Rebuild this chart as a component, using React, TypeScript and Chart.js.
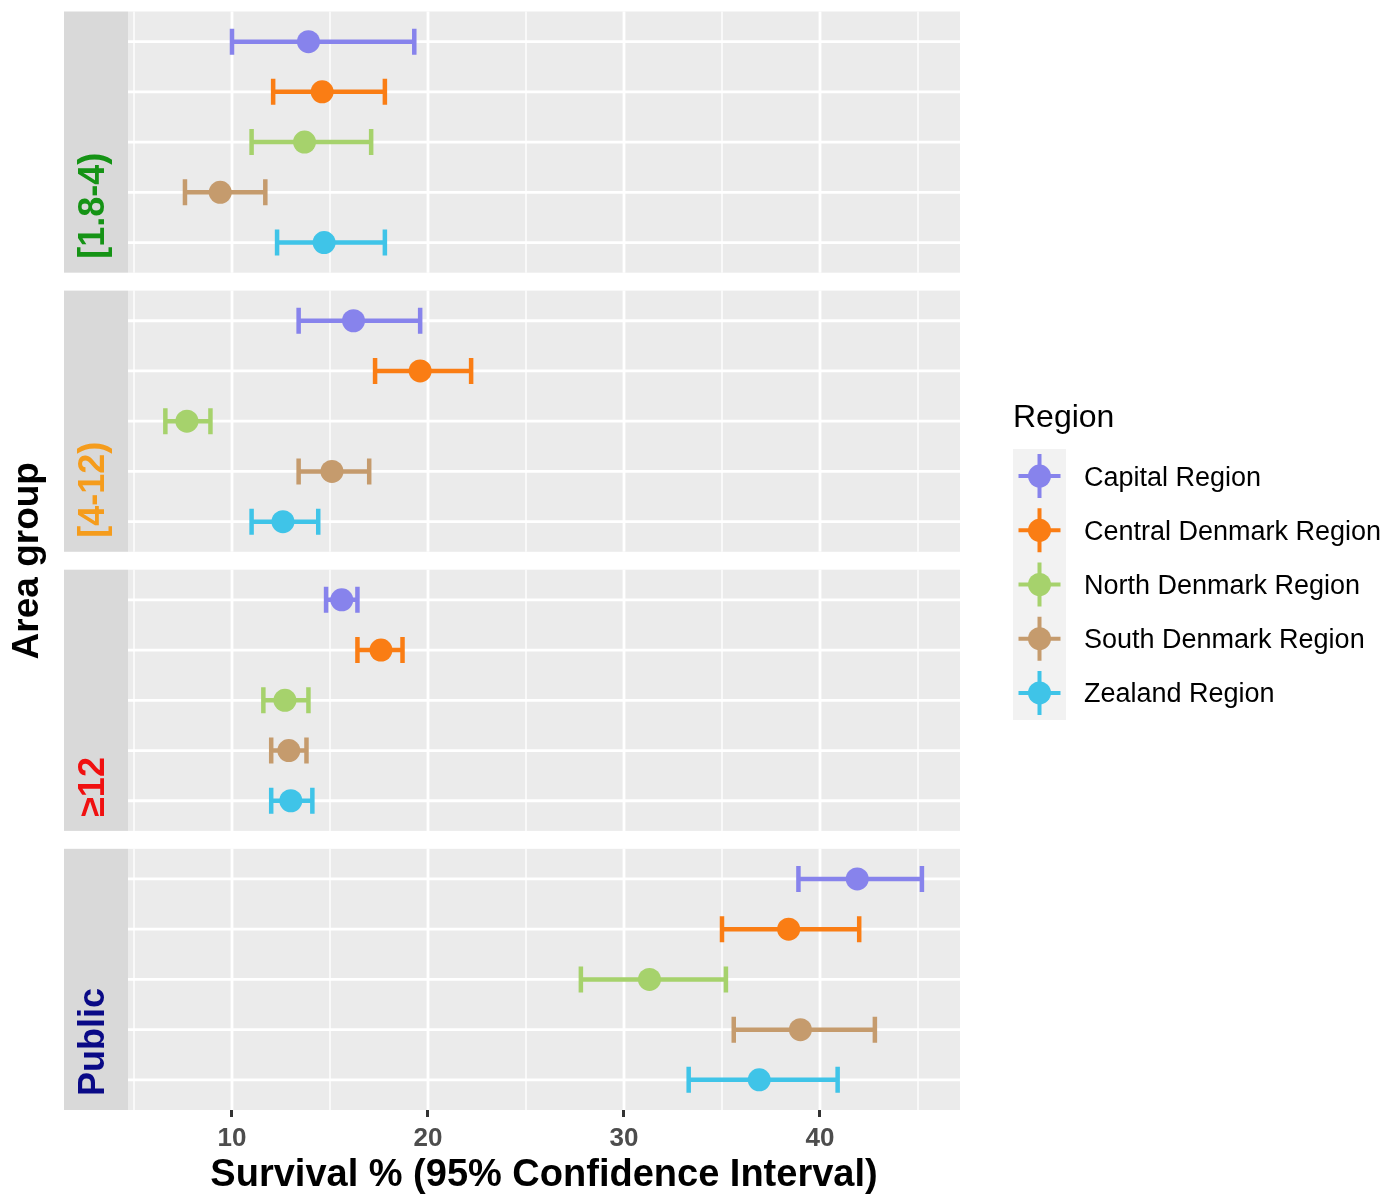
import React, { useEffect, useRef } from 'react';
import { Chart, registerables } from 'chart.js';

Chart.register(...registerables);

// ---------- data ----------
const regions = [
  'Capital Region',
  'Central Denmark Region',
  'North Denmark Region',
  'South Denmark Region',
  'Zealand Region',
];
const regionColors = ['#8783EC', '#FA7D14', '#A6D26C', '#C59B6D', '#3FC4E8'];

const areaGroups = ['[1.8-4)', '[4-12)', '≥12', 'Public'];
const areaGroupColors = ['#159315', '#F59C1C', '#F01010', '#0A0A86'];

const xMajorTicks = [10, 20, 30, 40];
const xMinorTicks = [5, 15, 25, 35, 45];

// values per area group: [1.8-4), [4-12), ≥12, Public
const capitalEst = [13.9, 16.2, 15.6, 41.9];
const capitalLow = [10.0, 13.4, 14.8, 38.9];
const capitalHigh = [19.3, 19.6, 16.4, 45.2];

const centralEst = [14.6, 19.6, 17.6, 38.4];
const centralLow = [12.1, 17.3, 16.4, 35.0];
const centralHigh = [17.8, 22.2, 18.7, 42.0];

const northEst = [13.7, 7.7, 12.7, 31.3];
const northLow = [11.0, 6.6, 11.6, 27.8];
const northHigh = [17.1, 8.9, 13.9, 35.2];

const southEst = [9.4, 15.1, 12.9, 39.0];
const southLow = [7.6, 13.4, 12.0, 35.6];
const southHigh = [11.7, 17.0, 13.8, 42.8];

const zealandEst = [14.7, 12.6, 13.0, 36.9];
const zealandLow = [12.3, 11.0, 12.0, 33.3];
const zealandHigh = [17.8, 14.4, 14.1, 40.9];

const estimates = [capitalEst, centralEst, northEst, southEst, zealandEst];
const lows = [capitalLow, centralLow, northLow, southLow, zealandLow];
const highs = [capitalHigh, centralHigh, northHigh, southHigh, zealandHigh];

// ---------- facet layout (in y-scale units) ----------
const PANEL_SPAN = 5.2; // 5 rows + 0.6 expansion each side
const PANEL_GAP = 0.357;
const Y_MAX = areaGroups.length * PANEL_SPAN + (areaGroups.length - 1) * PANEL_GAP;
const panelStart = (p: number) => p * (PANEL_SPAN + PANEL_GAP);
const rowPos = (p: number, r: number) => panelStart(p) + r + 0.6;

const STRIP_WIDTH = 64;
const FONT = '"Liberation Sans", Arial, Helvetica, sans-serif';

const facetPlugin = {
  id: 'facetPlugin',
  beforeDatasetsDraw(chart: any) {
    const { ctx, chartArea, scales } = chart;
    const x = scales.x;
    const y = scales.y;
    ctx.save();
    areaGroups.forEach((label, p) => {
      const top = y.getPixelForValue(panelStart(p));
      const bottom = y.getPixelForValue(panelStart(p) + PANEL_SPAN);
      ctx.fillStyle = '#EBEBEB';
      ctx.fillRect(chartArea.left, top, chartArea.right - chartArea.left, bottom - top);
      ctx.fillStyle = '#D9D9D9';
      ctx.fillRect(chartArea.left - STRIP_WIDTH, top, STRIP_WIDTH, bottom - top);

      ctx.strokeStyle = '#FFFFFF';
      ctx.lineWidth = 1.4;
      xMinorTicks.forEach((v) => {
        const px = x.getPixelForValue(v);
        ctx.beginPath();
        ctx.moveTo(px, top);
        ctx.lineTo(px, bottom);
        ctx.stroke();
      });
      ctx.lineWidth = 2.8;
      xMajorTicks.forEach((v) => {
        const px = x.getPixelForValue(v);
        ctx.beginPath();
        ctx.moveTo(px, top);
        ctx.lineTo(px, bottom);
        ctx.stroke();
      });
      for (let r = 0; r < regions.length; r++) {
        const py = y.getPixelForValue(rowPos(p, r));
        ctx.beginPath();
        ctx.moveTo(chartArea.left, py);
        ctx.lineTo(chartArea.right, py);
        ctx.stroke();
      }

      // strip label
      ctx.save();
      ctx.translate(chartArea.left - STRIP_WIDTH / 2 - 2, bottom - 14);
      ctx.rotate(-Math.PI / 2);
      ctx.font = `bold 36px ${FONT}`;
      ctx.fillStyle = areaGroupColors[p];
      ctx.textAlign = 'left';
      ctx.textBaseline = 'middle';
      ctx.fillText(label, 0, 0);
      ctx.restore();
    });

    // error bars
    chart.data.datasets.forEach((ds: any) => {
      ctx.strokeStyle = ds.backgroundColor;
      ctx.lineWidth = 4.5;
      ctx.lineCap = 'butt';
      ds.data.forEach((pt: any) => {
        const xl = x.getPixelForValue(pt.low);
        const xh = x.getPixelForValue(pt.high);
        const py = y.getPixelForValue(pt.y);
        const half = 13;
        ctx.beginPath();
        ctx.moveTo(xl, py);
        ctx.lineTo(xh, py);
        ctx.moveTo(xl, py - half);
        ctx.lineTo(xl, py + half);
        ctx.moveTo(xh, py - half);
        ctx.lineTo(xh, py + half);
        ctx.stroke();
      });
    });
    ctx.restore();
  },
  afterDraw(chart: any) {
    const { ctx, chartArea } = chart;
    ctx.save();
    // y-axis title
    ctx.save();
    ctx.translate(38, (chartArea.top + chartArea.bottom) / 2);
    ctx.rotate(-Math.PI / 2);
    ctx.font = `bold 37px ${FONT}`;
    ctx.fillStyle = '#000000';
    ctx.textAlign = 'center';
    ctx.textBaseline = 'alphabetic';
    ctx.fillText('Area group', 0, 0);
    ctx.restore();

    // legend
    const lx = chartArea.right + 53;
    ctx.font = `32px ${FONT}`;
    ctx.fillStyle = '#000000';
    ctx.textAlign = 'left';
    ctx.textBaseline = 'alphabetic';
    ctx.fillText('Region', lx, 427);

    const keyTop = 449;
    const keyH = 54.2;
    const keyW = 53;
    ctx.fillStyle = '#F2F2F2';
    ctx.fillRect(lx, keyTop, keyW, keyH * regions.length);
    regions.forEach((name, i) => {
      const cy = keyTop + keyH * (i + 0.5);
      const cx = lx + keyW / 2;
      ctx.strokeStyle = regionColors[i];
      ctx.lineWidth = 4;
      ctx.beginPath();
      ctx.moveTo(cx - 21, cy);
      ctx.lineTo(cx + 21, cy);
      ctx.moveTo(cx, cy - 22);
      ctx.lineTo(cx, cy + 22);
      ctx.stroke();
      ctx.fillStyle = regionColors[i];
      ctx.beginPath();
      ctx.arc(cx, cy, 11.5, 0, Math.PI * 2);
      ctx.fill();
      ctx.fillStyle = '#000000';
      ctx.font = `27px ${FONT}`;
      ctx.fillText(name, lx + 71, cy + 9.5);
    });
    ctx.restore();
  },
};

export default function App() {
  const canvasRef = useRef<HTMLCanvasElement | null>(null);

  useEffect(() => {
    if (!canvasRef.current) return;
    const datasets = regions.map((name, i) => ({
      label: name,
      data: areaGroups.map((_, p) => ({
        x: estimates[i][p],
        y: rowPos(p, i),
        low: lows[i][p],
        high: highs[i][p],
      })),
      backgroundColor: regionColors[i],
      borderColor: regionColors[i],
      borderWidth: 0,
      pointRadius: 11.5,
      pointHoverRadius: 11.5,
    }));

    const chart = new Chart(canvasRef.current, {
      type: 'scatter',
      data: { datasets },
      options: {
        animation: false,
        responsive: false,
        devicePixelRatio: 1,
        layout: { padding: { left: 128, right: 432, top: 8, bottom: 0 } },
        plugins: {
          legend: { display: false },
          tooltip: { enabled: false },
        },
        scales: {
          x: {
            type: 'linear',
            min: 4.694,
            max: 47.143,
            afterBuildTicks: (axis: any) => {
              axis.ticks = xMajorTicks.map((v) => ({ value: v }));
            },
            afterFit: (axis: any) => {
              axis.height = 88;
            },
            grid: {
              display: true,
              drawOnChartArea: false,
              drawTicks: true,
              tickLength: 7,
              tickColor: '#333333',
              tickWidth: 3,
            },
            border: { display: false },
            ticks: {
              padding: 6,
              color: '#4D4D4D',
              font: { family: FONT, size: 26, weight: 'bold' },
            },
            title: {
              display: true,
              text: 'Survival % (95% Confidence Interval)',
              color: '#000000',
              font: { family: FONT, size: 38, weight: 'bold' },
              padding: 0,
            },
          },
          y: {
            type: 'linear',
            min: 0,
            max: Y_MAX,
            reverse: true,
            display: false,
          },
        },
      } as any,
      plugins: [facetPlugin],
    });
    return () => chart.destroy();
  }, []);

  return (
    <div style={{ position: 'absolute', left: 0, top: 0, width: 1392, height: 1198, background: '#FFFFFF' }}>
      <canvas ref={canvasRef} width={1392} height={1198} style={{ display: 'block' }} />
    </div>
  );
}
